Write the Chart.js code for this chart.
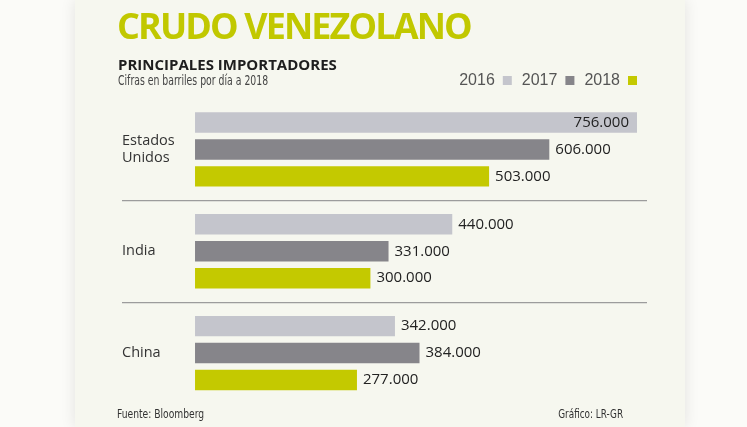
<!DOCTYPE html>
<html>
<head>
<meta charset="utf-8">
<title>Crudo venezolano</title>
<script src="https://cdn.jsdelivr.net/npm/chart.js@4.4.0/dist/chart.umd.min.js"></script>
<style>
  html, body { margin: 0; padding: 0; }
  body { width: 747px; height: 427px; background: #fbfbf8; position: relative; overflow: hidden; }
  #card { position: absolute; left: 75px; top: 0; width: 610px; height: 427px; background: #f6f7ef; box-shadow: 0 0 14px rgba(0,0,0,0.10); }
  #chart { position: absolute; left: 0; top: 0; }
  .txt { position: absolute; line-height: 1; white-space: nowrap; }
  .narrow { font-family: "Liberation Sans Narrow", "DejaVu Sans Condensed", "DejaVu Sans"; }
  #title { left: 117px; top: 1px; font: bold 36px "Open Sans"; letter-spacing: -1.9px; color: #c1c800; }
  #subtitle { left: 118px; top: 54px; font: bold 15px "Open Sans"; color: #1e1e1e; }
  #units { left: 118px; top: 73px; font-size: 14px; color: #444; transform: scaleX(0.74); transform-origin: left top; }
  #source { left: 117px; top: 408px; font-size: 12px; color: #333; transform: scaleX(0.85); transform-origin: left top; }
  #credit { right: 124px; top: 408px; font-size: 12px; color: #333; transform: scaleX(0.82); transform-origin: right top; }
</style>
</head>
<body>
<div id="card"></div>
<canvas id="chart" width="747" height="427"></canvas>
<div class="txt" id="title">CRUDO VENEZOLANO</div>
<div class="txt" id="subtitle">PRINCIPALES IMPORTADORES</div>
<div class="txt narrow" id="units">Cifras en barriles por día a 2018</div>
<div class="txt narrow" id="source">Fuente: Bloomberg</div>
<div class="txt narrow" id="credit">Gráfico: LR-GR</div>

<script>
// datos (barriles por día)
var categories = [['Estados', 'Unidos'], 'India', 'China'];
var years = ['2016', '2017', '2018'];
var imports2016 = [756000, 440000, 342000];
var imports2017 = [606000, 331000, 384000];
var imports2018 = [503000, 300000, 277000];

var seriesColors = ['#c4c5cc', '#86858a', '#c4c900'];

function formatValue(v) {
  return String(v).replace(/\B(?=(\d{3})+(?!\d))/g, '.');
}

// etiquetas de valor al final de cada barra
var valueLabels = {
  id: 'valueLabels',
  afterDatasetsDraw: function(chart) {
    var ctx = chart.ctx;
    ctx.save();
    ctx.font = '15px "Open Sans"';
    ctx.fillStyle = '#222';
    ctx.textBaseline = 'middle';
    chart.data.datasets.forEach(function(ds, i) {
      chart.getDatasetMeta(i).data.forEach(function(bar, j) {
        var text = formatValue(ds.data[j]);
        var w = ctx.measureText(text).width;
        if (bar.x + 6 + w > chart.chartArea.right) {
          ctx.textAlign = 'right';
          ctx.fillText(text, bar.x - 8, bar.y);
        } else {
          ctx.textAlign = 'left';
          ctx.fillText(text, bar.x + 6, bar.y);
        }
      });
    });
    ctx.restore();
  }
};

var series = [imports2016, imports2017, imports2018];

new Chart(document.getElementById('chart'), {
  type: 'bar',
  data: {
    labels: categories,
    datasets: series.map(function(values, i) {
      return {
        label: years[i],
        data: values,
        backgroundColor: seriesColors[i],
        borderWidth: 0,
        categoryPercentage: 0.794,
        barPercentage: 0.76
      };
    })
  },
  options: {
    indexAxis: 'y',
    responsive: false,
    animation: false,
    layout: { padding: { top: 62.5, left: 122, right: 100, bottom: 23 } },
    scales: {
      x: {
        display: false,
        min: -124900,
        max: 773100,
        grid: { display: false }
      },
      y: {
        offset: true,
        border: { display: false },
        grid: {
          offset: true,
          drawTicks: false,
          lineWidth: 1.2,
          color: function(c) {
            return (c.type === 'tick' && c.index > 0) ? '#9c9c9c' : 'rgba(0,0,0,0)';
          }
        },
        ticks: {
          mirror: true,
          padding: 0,
          color: '#333',
          font: { family: 'Open Sans', size: 14.5, lineHeight: 1.2 }
        }
      }
    },
    plugins: {
      legend: {
        position: 'top',
        align: 'start',
        rtl: true,
        reverse: true,
        labels: {
          boxWidth: 9,
          boxHeight: 9,
          padding: 10,
          color: '#555',
          font: { family: '"Liberation Sans"', size: 16 }
        }
      },
      tooltip: { enabled: false }
    }
  },
  plugins: [valueLabels]
});
</script>
</body>
</html>
